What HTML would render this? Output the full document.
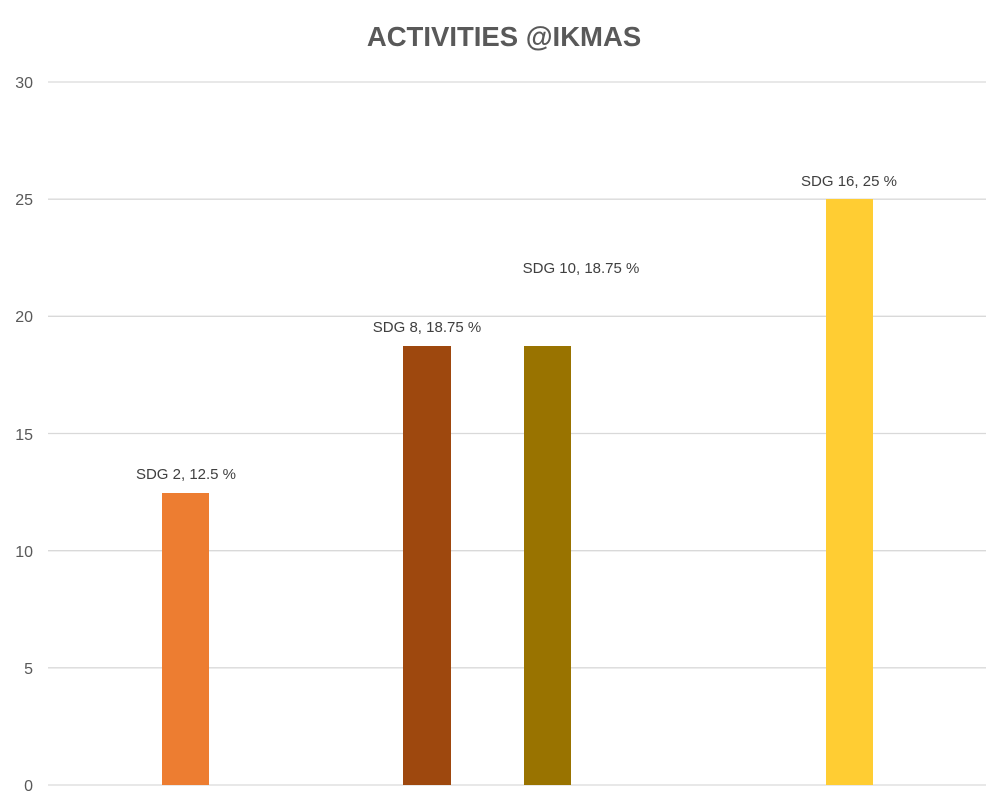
<!DOCTYPE html>
<html><head><style>
body{margin:0;background:#fff;}
svg{display:block;font-family:"Liberation Sans",Arial,sans-serif;}
</style></head><body>
<svg width="1008" height="809" xmlns="http://www.w3.org/2000/svg">
<rect width="1008" height="809" fill="#fff"/>
<text x="504" y="46" text-anchor="middle" font-size="27.5" font-weight="bold" fill="#595959">ACTIVITIES @IKMAS</text>
<g stroke="#d9d9d9" stroke-width="1.3">
<line x1="48" x2="986" y1="82" y2="82"/>
<line x1="48" x2="986" y1="199.2" y2="199.2"/>
<line x1="48" x2="986" y1="316.3" y2="316.3"/>
<line x1="48" x2="986" y1="433.5" y2="433.5"/>
<line x1="48" x2="986" y1="550.7" y2="550.7"/>
<line x1="48" x2="986" y1="667.8" y2="667.8"/>
<line x1="48" x2="986" y1="785" y2="785"/>
</g>
<g font-size="16" fill="#595959" text-anchor="end">
<text x="33" y="88">30</text>
<text x="33" y="205">25</text>
<text x="33" y="322">20</text>
<text x="33" y="440">15</text>
<text x="33" y="557">10</text>
<text x="33" y="674">5</text>
<text x="33" y="791">0</text>
</g>
<rect x="162" y="493" width="47" height="292" fill="#ed7d31"/>
<rect x="403" y="346" width="48" height="439" fill="#9e480e"/>
<rect x="524" y="346" width="47" height="439" fill="#997300"/>
<rect x="826" y="199" width="47" height="586" fill="#ffcd33"/>
<g font-size="15" fill="#404040" text-anchor="middle">
<text x="186" y="479">SDG 2, 12.5 %</text>
<text x="427" y="332">SDG 8, 18.75 %</text>
<text x="581" y="273">SDG 10, 18.75 %</text>
<text x="849" y="186">SDG 16, 25 %</text>
</g>
</svg>
</body></html>
